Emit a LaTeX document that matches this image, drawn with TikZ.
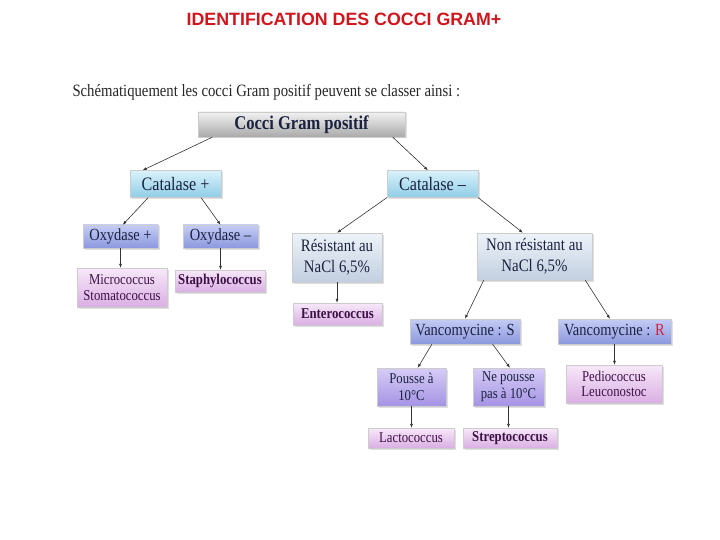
\documentclass[tikz,border=0pt]{standalone}
\usepackage{fontspec}
\setmainfont{Liberation Serif}[FakeStretch=0.85]
\newfontfamily\headfont{Liberation Sans}
\usetikzlibrary{arrows.meta,calc,shadows}
\definecolor{TitleRed}{HTML}{D0151C}
\definecolor{InkNavy}{HTML}{1B2240}
\definecolor{InkPlum}{HTML}{3D1046}
\definecolor{MarkRed}{HTML}{D4203A}
\definecolor{LinkGray}{HTML}{333333}
\definecolor{RootFace}{HTML}{F2F2F2}
\definecolor{RootEdge}{HTML}{A9A9A9}
\definecolor{CatFace}{HTML}{D9F2FB}
\definecolor{CatEdge}{HTML}{8FCDE6}
\definecolor{EnzFace}{HTML}{C4CCF5}
\definecolor{EnzEdge}{HTML}{8C98DE}
\definecolor{SaltFace}{HTML}{EEF3F9}
\definecolor{SaltEdge}{HTML}{C2CFE0}
\definecolor{TempFace}{HTML}{D6CCF6}
\definecolor{TempEdge}{HTML}{A594E4}
\definecolor{GenusFace}{HTML}{F7E8F9}
\definecolor{GenusEdge}{HTML}{DAAFE3}

\begin{document}
\begin{tikzpicture}[x=1pt, y=-1pt, >={Latex[length=4pt,width=3pt]},
  flowbox/.style={inner sep=0pt, align=center, text=InkNavy, draw=black!20,
    line width=0.4pt, drop shadow={opacity=0.25, shadow xshift=1.5pt, shadow yshift=-1.5pt}},
  rootbox/.style={flowbox, top color=RootFace, bottom color=RootEdge,
    font=\bfseries\fontsize{19.5}{21}\selectfont},
  catbox/.style={flowbox, top color=CatFace, bottom color=CatEdge,
    font=\fontsize{19}{21}\selectfont},
  enzbox/.style={flowbox, top color=EnzFace, bottom color=EnzEdge,
    font=\fontsize{17}{20}\selectfont},
  saltbox/.style={flowbox, top color=SaltFace, bottom color=SaltEdge,
    font=\fontsize{17.5}{21}\selectfont},
  tempbox/.style={flowbox, top color=TempFace, bottom color=TempEdge,
    font=\fontsize{15}{17}\selectfont},
  genusbox/.style={flowbox, top color=GenusFace, bottom color=GenusEdge, text=InkPlum,
    font=\fontsize{15}{15.5}\selectfont},
  link/.style={->, LinkGray, line width=0.6pt}]
  \useasboundingbox (0,0) rectangle (720,540);

  % heading
  \node[font=\headfont\bfseries\fontsize{17.8}{20}\selectfont, text=TitleRed] (title)
    at (344,19) {IDENTIFICATION DES COCCI GRAM+};
  \node[anchor=west, font=\fontsize{17.3}{20}\selectfont, text=black!85] (intro)
    at (69,92) {Schématiquement les cocci Gram positif peuvent se classer ainsi :};

  % tree
  \node[rootbox, minimum width=207pt, minimum height=25pt] (cgp) at (301.5,124.5) {Cocci Gram positif};
  \node[catbox, minimum width=91pt, minimum height=27pt] (catp) at (175.5,184) {Catalase +};
  \node[catbox, minimum width=91pt, minimum height=27pt] (catm) at (432.5,184) {Catalase –};

  \node[enzbox, minimum width=75pt, minimum height=23pt] (oxp) at (120.5,236.5) {Oxydase +};
  \node[enzbox, minimum width=75pt, minimum height=23pt] (oxm) at (220.5,236.5) {Oxydase –};
  \node[genusbox, minimum width=90pt, minimum height=39pt] (micro) at (122,287.5) {Micrococcus\\Stomatococcus};
  \node[genusbox, minimum width=90pt, minimum height=22pt, font=\bfseries\fontsize{15}{16}\selectfont]
    (staph) at (220,281) {Staphylococcus};

  \node[saltbox, minimum width=90pt, minimum height=49pt] (res) at (337,257.5) {Résistant au\\NaCl 6,5\%};
  \node[saltbox, minimum width=115pt, minimum height=47pt] (nonres) at (534.5,256.5) {Non résistant au\\NaCl 6,5\%};
  \node[genusbox, minimum width=89pt, minimum height=22pt, font=\bfseries\fontsize{15}{16}\selectfont]
    (entero) at (337.5,314) {Enterococcus};

  \node[enzbox, minimum width=110pt, minimum height=25pt] (vs) at (465,331.5) {Vancomycine : S};
  \node[enzbox, minimum width=113pt, minimum height=25pt] (vr) at (614.5,331.5)
    {Vancomycine : \textcolor{MarkRed}{R}};
  \node[tempbox, minimum width=69pt, minimum height=38pt] (pousse) at (411.5,387) {Pousse à\\10°C};
  \node[tempbox, minimum width=71pt, minimum height=38pt] (nopousse) at (508.5,387) {Ne pousse\\pas à 10°C};
  \node[genusbox, minimum width=96pt, minimum height=38pt] (pedio) at (614,384) {Pediococcus\\Leuconostoc};
  \node[genusbox, minimum width=86pt, minimum height=20pt] (lacto) at (411,438) {Lactococcus};
  \node[genusbox, minimum width=94pt, minimum height=20pt, font=\bfseries\fontsize{15}{16}\selectfont]
    (strepto) at (510,438) {Streptococcus};

  % arrows
  \draw[link] ($(cgp.south west)!.07!(cgp.south east)$) -- ($(catp.north west)!.14!(catp.north east)$);
  \draw[link] ($(cgp.south west)!.94!(cgp.south east)$) -- ($(catm.north west)!.45!(catm.north east)$);
  \draw[link] ($(catp.south west)!.2!(catp.south east)$) -- ($(oxp.north west)!.53!(oxp.north east)$);
  \draw[link] ($(catp.south west)!.78!(catp.south east)$) -- (oxm.north);
  \draw[link] (oxp.south) -- (oxp.south |- micro.north);
  \draw[link] (oxm.south) -- (oxm.south |- staph.north);
  \draw[link] (catm.south west) -- (res.north);
  \draw[link] (catm.south east) -- ($(nonres.north west)!.4!(nonres.north east)$);
  \draw[link] (res.south) -- (res.south |- entero.north);
  \draw[link] ($(nonres.south west)!.06!(nonres.south east)$) -- (vs.north);
  \draw[link] ($(nonres.south west)!.94!(nonres.south east)$) -- ($(vr.north west)!.46!(vr.north east)$);
  \draw[link] ($(vs.south west)!.2!(vs.south east)$) -- ($(pousse.north west)!.59!(pousse.north east)$);
  \draw[link] ($(vs.south west)!.75!(vs.south east)$) -- ($(nopousse.north west)!.52!(nopousse.north east)$);
  \draw[link] (vr.south) -- (vr.south |- pedio.north);
  \draw[link] (pousse.south) -- (pousse.south |- lacto.north);
  \draw[link] (nopousse.south) -- (nopousse.south |- strepto.north);
\end{tikzpicture}
\end{document}
